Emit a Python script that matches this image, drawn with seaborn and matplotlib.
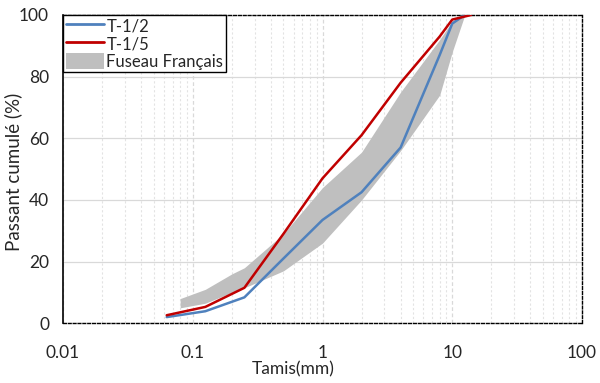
import numpy as np
import pandas as pd
import matplotlib
matplotlib.use("Agg")
import matplotlib.pyplot as plt
import seaborn as sns
from matplotlib.patches import Patch
from matplotlib.lines import Line2D

# ---- data ----
sieves_t12 = [0.063, 0.125, 0.25, 0.5, 1, 2, 4, 8, 10, 12.5]
passing_t12 = [2.0, 3.9, 8.4, 21, 33.5, 42.5, 57, 87, 97.2, 100]

sieves_t15 = [0.063, 0.125, 0.25, 0.5, 1, 2, 4, 8, 10, 14]
passing_t15 = [2.6, 5.3, 11.5, 29, 47, 61, 78, 93, 98.5, 100]

fuseau_x = [0.08, 0.125, 0.2, 0.25, 0.5, 1, 2, 4, 8, 10, 12.5]
fuseau_low = [5, 6.5, 10, 11.5, 17, 26, 40, 56, 74, 88, 100]
fuseau_up = [8, 11, 16, 18, 29, 44, 55.5, 75, 92, 98, 100]

x_ticks = [0.01, 0.1, 1, 10, 100]
x_ticklabels = ["0.01", "0.1", "1", "10", "100"]
y_ticks = [0, 20, 40, 60, 80, 100]

sns.set_style("white")
plt.rcParams['font.family'] = ['Lato', 'DejaVu Sans']

fig = plt.figure(figsize=(6, 3.83), dpi=100)
ax = fig.add_axes([0.105, 0.156, 0.865, 0.805])

ax.fill_between(fuseau_x, fuseau_low, fuseau_up, color="#BFBFBF", linewidth=0, zorder=2)

df1 = pd.DataFrame({"x": sieves_t12, "y": passing_t12})
df2 = pd.DataFrame({"x": sieves_t15, "y": passing_t15})
sns.lineplot(data=df1, x="x", y="y", ax=ax, color="#4F81BD", linewidth=1.8, zorder=4, estimator=None, sort=False)
sns.lineplot(data=df2, x="x", y="y", ax=ax, color="#C00000", linewidth=1.8, zorder=5, estimator=None, sort=False)

ax.set_xscale("log")
ax.set_xlim(0.01, 100)
ax.set_ylim(0, 100)
ax.set_xticks(x_ticks)
ax.set_xticklabels(x_ticklabels)
ax.set_yticks(y_ticks)

ax.grid(True, which="major", axis="y", color="#D9D9D9", linewidth=0.9, linestyle="-")
ax.grid(True, which="major", axis="x", color="#D9D9D9", linewidth=0.9, linestyle=(0, (3, 2)))
ax.grid(True, which="minor", axis="x", color="#E3E3E3", linewidth=0.8, linestyle=(0, (2, 2)))
ax.set_axisbelow(True)

for s in ["top", "right", "bottom"]:
    ax.spines[s].set_linestyle((0, (2, 1.5)))
    ax.spines[s].set_color("black")
    ax.spines[s].set_linewidth(1.0)
ax.spines["left"].set_color("black")
ax.spines["left"].set_linewidth(1.2)

ax.tick_params(axis="both", which="major", length=4, width=0.8, color="black", labelsize=12.5, direction="out")
ax.tick_params(axis="x", which="minor", length=0)
ax.tick_params(axis="x", pad=12)
ax.tick_params(axis="y", pad=6)

ax.set_xlabel("Tamis(mm)", fontsize=12.5, va="center")
ax.set_ylabel("Passant cumulé (%)", fontsize=13.5)
ax.xaxis.set_label_coords(0.443, -0.148)
ax.yaxis.set_label_coords(-0.079, 0.49)

handles = [Line2D([0], [0], color="#4F81BD", lw=2),
           Line2D([0], [0], color="#C00000", lw=2),
           Patch(facecolor="#BFBFBF", edgecolor="none")]
leg = ax.legend(handles, ["T-1/2", "T-1/5", "Fuseau Français"], loc="upper left",
                bbox_to_anchor=(0, 1), borderaxespad=0, fancybox=False, framealpha=1,
                edgecolor="black", fontsize=12, handlelength=2.3, handleheight=1.15,
                handletextpad=0.15, labelspacing=0.05, borderpad=0.15)
leg.get_frame().set_linewidth(1.0)
leg.set_zorder(10)

fig.savefig("out.png", dpi=100)
